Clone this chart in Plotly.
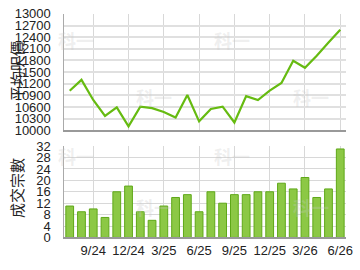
import plotly.graph_objects as go
from plotly.subplots import make_subplots

months = ["7/24","8/24","9/24","10/24","11/24","12/24","1/25","2/25","3/25","4/25","5/25","6/25",
          "7/25","8/25","9/25","10/25","11/25","12/25","1/26","2/26","3/26","4/26","5/26","6/26"]
avg_price = [11020, 11300, 10780, 10370, 10590, 10100, 10610, 10570, 10470, 10330,
             10910, 10230, 10550, 10610, 10200, 10880, 10780, 11020, 11220, 11790,
             11610, 11920, 12260, 12590]
volume = [11, 9, 10, 7, 16, 18, 9, 6, 11, 14, 15, 9, 16, 12, 15, 15, 16, 16, 19, 17, 21, 14, 17, 31]
tick_labels = ["9/24","12/24","3/25","6/25","9/25","12/25","3/26","6/26"]
price_ticks = list(range(10000, 13001, 300))
vol_ticks = list(range(0, 33, 4))

idx = list(range(len(months)))
tick_idx = [months.index(t) for t in tick_labels]

fig = make_subplots(rows=2, cols=1)
fig.add_trace(go.Scatter(x=idx, y=avg_price, mode="lines",
                         line=dict(color="#66bb11", width=2.2)), row=1, col=1)
fig.add_trace(go.Bar(x=idx, y=volume, width=0.66,
                     marker=dict(color="#8cc845", line=dict(color="#5fa818", width=1))), row=2, col=1)

font = dict(family="Liberation Sans, Arial, sans-serif", size=13, color="#222")
xdom = [65.7/360, 353/360]
common_x = dict(domain=xdom, range=[-0.45, 23.5], tickvals=tick_idx, ticktext=tick_labels,
                showgrid=True, gridcolor="#d8d8d8", gridwidth=1, zeroline=False,
                showline=True, linecolor="#999", linewidth=2, ticks="", tickfont=font)

wm = [(77, 35), (237, 35), (157, 95), (317, 95), (77, 158), (237, 158), (157, 212), (317, 212)]
annotations = [
    dict(text="科一", x=px/360, y=1-py/270, xref="paper", yref="paper", showarrow=False,
         xanchor="center", yanchor="middle",
         font=dict(family="Noto Sans CJK TC", size=18, color="rgba(200,200,200,0.3)", weight="bold"))
    for px, py in wm
]
annotations += [
    dict(text="平均呎價", x=17/360, y=1-68/270, xref="paper", yref="paper", textangle=-90,
         xanchor="center", yanchor="middle",
         showarrow=False, font=dict(family="Noto Sans CJK TC", size=15, color="#222")),
    dict(text="成交宗數", x=17/360, y=1-192/270, xref="paper", yref="paper", textangle=-90,
         xanchor="center", yanchor="middle",
         showarrow=False, font=dict(family="Noto Sans CJK TC", size=15, color="#222")),
]

fig.update_layout(
    xaxis=dict(common_x, showticklabels=False),
    xaxis2=dict(common_x, showticklabels=True),
    yaxis=dict(domain=[1-130.5/270, 1-7.3/270], range=[10000, 13000], tickvals=price_ticks,
               ticktext=[str(v) for v in price_ticks],
               showgrid=True, gridcolor="#e0e0e0", gridwidth=1.5, zeroline=False,
               showline=True, linecolor="#aaa", linewidth=1, ticks="", ticklabelstandoff=10,
               tickfont=font),
    yaxis2=dict(domain=[1-244/270, 1-147.3/270], range=[0, 32], tickvals=vol_ticks,
                ticktext=[str(v) for v in vol_ticks],
                showgrid=True, gridcolor="#d8d8d8", gridwidth=1, zeroline=False,
                showline=True, linecolor="#aaa", linewidth=1, ticks="", ticklabelstandoff=10,
                tickfont=font),
    width=360, height=270, margin=dict(l=0, r=0, t=0, b=0),
    paper_bgcolor="white", plot_bgcolor="white", showlegend=False,
    annotations=annotations,
)
fig.write_html("out.html")
